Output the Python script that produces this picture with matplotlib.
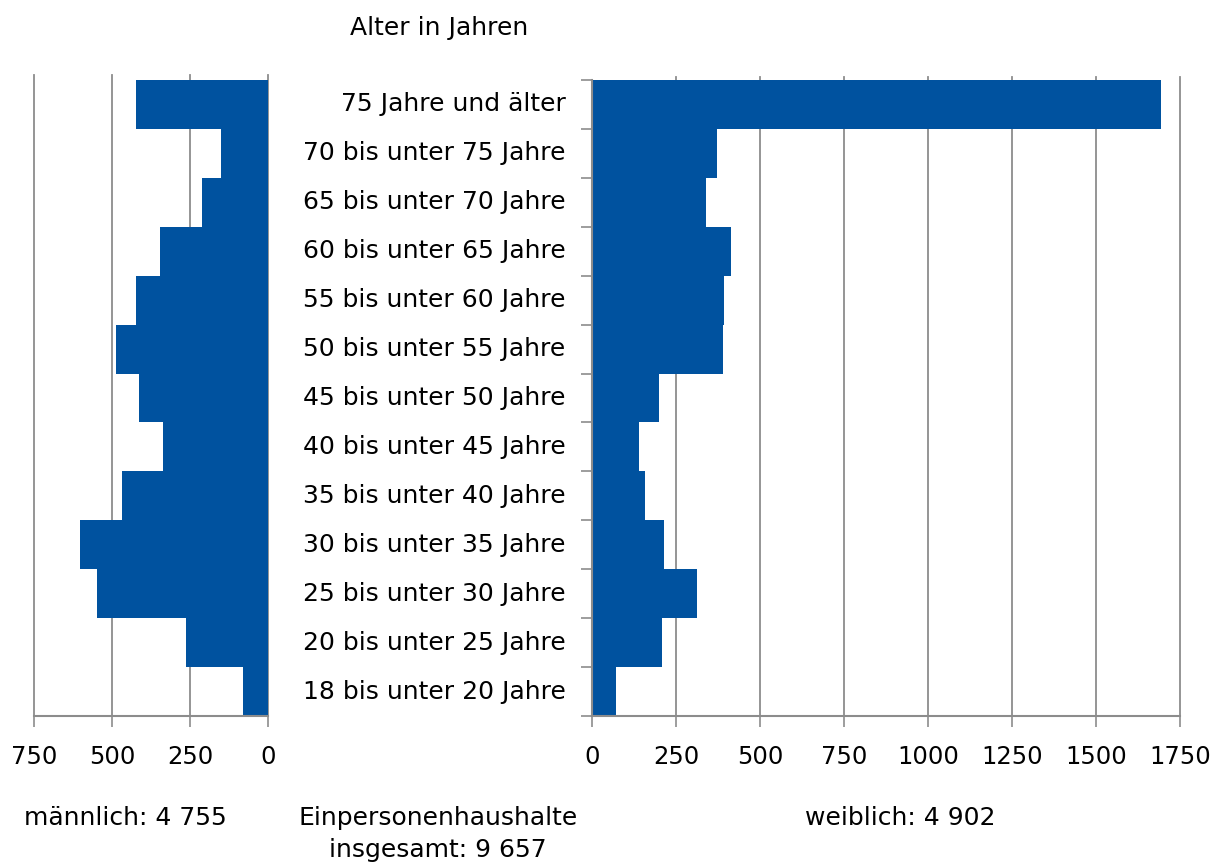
import matplotlib.pyplot as plt
import numpy as np

plt.rcParams['font.family'] = ['DejaVu Sans']

categories = ["18 bis unter 20 Jahre", "20 bis unter 25 Jahre", "25 bis unter 30 Jahre",
              "30 bis unter 35 Jahre", "35 bis unter 40 Jahre", "40 bis unter 45 Jahre",
              "45 bis unter 50 Jahre", "50 bis unter 55 Jahre", "55 bis unter 60 Jahre",
              "60 bis unter 65 Jahre", "65 bis unter 70 Jahre", "70 bis unter 75 Jahre",
              "75 Jahre und älter"]
male = [80, 263, 548, 603, 468, 337, 413, 487, 423, 346, 212, 151, 424]
female = [71, 208, 313, 214, 158, 140, 199, 389, 392, 414, 338, 372, 1694]
male_ticks = [750, 500, 250, 0]
female_ticks = [0, 250, 500, 750, 1000, 1250, 1500, 1750]

blue = "#00529F"
grid = "#8c8c8c"
fs = 18
tfs = 17.5

fig = plt.figure(figsize=(12.16, 8.66), dpi=100)
y = np.arange(len(categories))

# left: male
axl = fig.add_axes([34/1216, 1-716/866, 234/1216, 636/866])
axl.barh(y, male, height=1.0, color=blue, zorder=2)
axl.set_xlim(750, 0)
axl.set_ylim(-0.5, len(categories)-0.5)
axl.set_xticks(male_ticks)
axl.set_xticklabels([str(t) for t in male_ticks], fontsize=tfs)
axl.set_yticks([])
for t in male_ticks:
    axl.axvline(t, color=grid, lw=1.3, zorder=1, ymax=1.008, clip_on=False)
for s in ["top", "left", "right"]:
    axl.spines[s].set_visible(False)
axl.spines["bottom"].set_color(grid)
axl.spines["bottom"].set_linewidth(1.5)
axl.tick_params(axis="x", length=8, width=1.2, color=grid, pad=13)

# right: female
axr = fig.add_axes([592/1216, 1-716/866, 588/1216, 636/866])
axr.barh(y, female, height=1.0, color=blue, zorder=2)
axr.set_xlim(0, 1750)
axr.set_ylim(-0.5, len(categories)-0.5)
axr.set_xticks(female_ticks)
axr.set_xticklabels([str(t) for t in female_ticks], fontsize=tfs)
axr.set_yticks(np.arange(len(categories)+1) - 0.5)
axr.set_yticklabels([])
for t in female_ticks[1:]:
    axr.axvline(t, color=grid, lw=1.3, zorder=1, ymax=1.005, clip_on=False)
for s in ["top", "right"]:
    axr.spines[s].set_visible(False)
for s in ["bottom", "left"]:
    axr.spines[s].set_color(grid)
    axr.spines[s].set_linewidth(1.5)
axr.tick_params(axis="both", length=8, width=1.2, color=grid)
axr.tick_params(axis="x", pad=13)

# category labels in the middle
for i, c in enumerate(categories):
    axr.text(-0.045, i, c, transform=axr.get_yaxis_transform(), ha="right", va="center",
             fontsize=fs)

fig.text(439/1216, 1-28/866, "Alter in Jahren", ha="center", va="center", fontsize=fs)
fig.text(125/1216, 1-818/866, "männlich: 4 755", ha="center", va="center", fontsize=fs)
fig.text(438/1216, 1-818/866, "Einpersonenhaushalte", ha="center", va="center", fontsize=fs)
fig.text(438/1216, 1-850/866, "insgesamt: 9 657", ha="center", va="center", fontsize=fs)
fig.text(900/1216, 1-818/866, "weiblich: 4 902", ha="center", va="center", fontsize=fs)

fig.savefig("out.png", dpi=100)
